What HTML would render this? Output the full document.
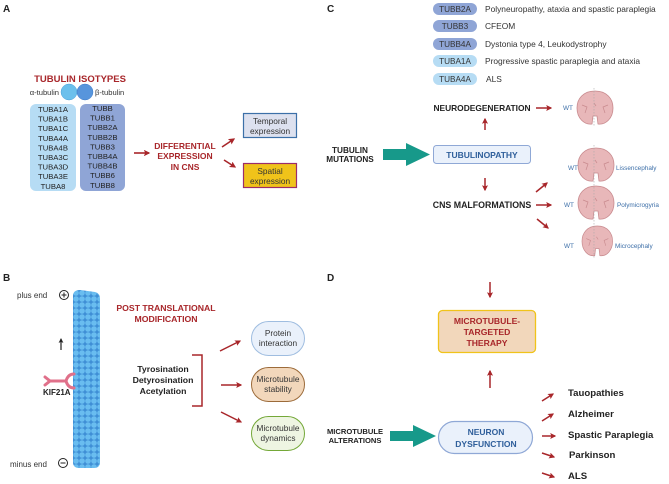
<!DOCTYPE html>
<html><head><meta charset="utf-8"><style>
html,body{margin:0;padding:0;background:#fff}
svg{display:block}
text{font-family:"Liberation Sans",sans-serif}
.b{font-weight:bold}
</style></head><body>
<svg width="669" height="484" viewBox="0 0 669 484" xmlns="http://www.w3.org/2000/svg">
<defs>
<marker id="ar" viewBox="0 0 10 10" refX="8" refY="5" markerWidth="4" markerHeight="4" orient="auto"><path d="M0,0 L10,5 L0,10 L2,5Z" fill="#a8262a"/></marker>
<marker id="ak" viewBox="0 0 10 10" refX="8" refY="5" markerWidth="4" markerHeight="4" orient="auto"><path d="M0,0 L10,5 L0,10 L2,5Z" fill="#222"/></marker>
<pattern id="mt" x="73" y="290" width="6" height="6" patternUnits="userSpaceOnUse"><rect width="6" height="6" fill="#3f8fd6"/><circle cx="3" cy="3" r="2.8" fill="#69bdf0"/></pattern>
<g id="brain"><path d="M18,0 C6,0 0,8 0,17 C0,27 7,34 15,33 L16,25 L20,25 L21,33 C29,34 36,27 36,17 C36,8 30,0 18,0Z" fill="#e8b7b9" stroke="#c88a8e" stroke-width="0.8"/><path d="M5,14 L10,16 L8,22 M31,14 L26,16 L28,22 M17,12 L19,15" stroke="#c88a8e" stroke-width="0.7" fill="none"/></g>
</defs>

<!-- Panel A -->
<text x="3" y="12" class="b" font-size="10" fill="#222">A</text>
<text x="80" y="82" class="b" font-size="9.5" fill="#a8262a" text-anchor="middle">TUBULIN ISOTYPES</text>
<text x="59" y="95" font-size="7.6" fill="#333" text-anchor="end">α-tubulin</text>
<circle cx="69" cy="92" r="8" fill="#6cc0ec" stroke="#4aa0d8" stroke-width="0.5"/>
<circle cx="85" cy="92" r="8" fill="#5795dc" stroke="#3e7bc8" stroke-width="0.5"/>
<text x="95" y="95" font-size="7.6" fill="#333">β-tubulin</text>
<rect x="30" y="104" width="46" height="87" rx="6" fill="#b6dcf4"/>
<rect x="80" y="104" width="45" height="87" rx="6" fill="#8fa5d6"/>
<g font-size="7.7" fill="#222" text-anchor="middle">
<text x="53" y="112">TUBA1A</text><text x="53" y="121.6">TUBA1B</text><text x="53" y="131.2">TUBA1C</text><text x="53" y="140.8">TUBA4A</text><text x="53" y="150.4">TUBA4B</text><text x="53" y="160">TUBA3C</text><text x="53" y="169.6">TUBA3D</text><text x="53" y="179.2">TUBA3E</text><text x="53" y="188.8">TUBA8</text>
<text x="102.5" y="111">TUBB</text><text x="102.5" y="120.6">TUBB1</text><text x="102.5" y="130.2">TUBB2A</text><text x="102.5" y="139.8">TUBB2B</text><text x="102.5" y="149.4">TUBB3</text><text x="102.5" y="159">TUBB4A</text><text x="102.5" y="168.6">TUBB4B</text><text x="102.5" y="178.2">TUBB6</text><text x="102.5" y="187.8">TUBB8</text>
</g>
<line x1="134" y1="153" x2="149" y2="153" stroke="#a8262a" stroke-width="1.6" marker-end="url(#ar)"/>
<g class="b" font-size="8.5" fill="#a8262a" text-anchor="middle"><text x="185" y="149">DIFFERENTIAL</text><text x="185" y="159">EXPRESSION</text><text x="185" y="170">IN CNS</text></g>
<line x1="222" y1="147" x2="234" y2="139" stroke="#a8262a" stroke-width="1.6" marker-end="url(#ar)"/>
<line x1="224" y1="160" x2="235" y2="167" stroke="#a8262a" stroke-width="1.6" marker-end="url(#ar)"/>
<rect x="243.5" y="113.5" width="53" height="24" fill="#dde1ef" stroke="#3c70a8" stroke-width="1.2"/>
<g font-size="8.3" fill="#333" text-anchor="middle"><text x="270" y="124">Temporal</text><text x="270" y="134">expression</text></g>
<rect x="243.5" y="163.5" width="53" height="24" fill="#f0c31a" stroke="#9b2d6a" stroke-width="1.2"/>
<g font-size="8.3" fill="#333" text-anchor="middle"><text x="270" y="174">Spatial</text><text x="270" y="184">expression</text></g>

<!-- Panel B -->
<text x="3" y="281" class="b" font-size="10" fill="#222">B</text>
<text x="17" y="298" font-size="8" fill="#333">plus end</text>
<circle cx="64" cy="295" r="4.5" fill="none" stroke="#222" stroke-width="1"/><path d="M61.5,295h5M64,292.5v5" stroke="#222" stroke-width="1"/>
<path d="M73,296 Q73,290 80,290 L95,292 Q100,293 100,299 L100,462 Q100,468 94,468 L79,468 Q73,468 73,462Z" fill="url(#mt)"/>
<line x1="61" y1="350" x2="61" y2="339" stroke="#222" stroke-width="1.2" marker-end="url(#ak)"/>
<path d="M45,377 L50,381 L45,385 M50,381 L66,381 M66,381 Q68,374 74,374 M66,381 Q68,388 74,388" stroke="#e0708a" stroke-width="3" fill="none" stroke-linecap="round"/>
<text x="43" y="395" class="b" font-size="8" fill="#222">KIF21A</text>
<text x="10" y="467" font-size="8" fill="#333">minus end</text>
<circle cx="63" cy="463" r="4.5" fill="none" stroke="#222" stroke-width="1"/><path d="M60.5,463h5" stroke="#222" stroke-width="1"/>
<g class="b" font-size="8.7" fill="#a8262a" text-anchor="middle"><text x="166" y="311">POST TRANSLATIONAL</text><text x="166" y="322">MODIFICATION</text></g>
<g class="b" font-size="8.7" fill="#222" text-anchor="middle"><text x="163" y="372">Tyrosination</text><text x="163" y="383">Detyrosination</text><text x="163" y="394">Acetylation</text></g>
<path d="M192,355 L202,355 L202,406 L192,406" stroke="#a8262a" stroke-width="1.5" fill="none"/>
<line x1="220" y1="351" x2="240" y2="341" stroke="#a8262a" stroke-width="1.5" marker-end="url(#ar)"/>
<line x1="221" y1="385" x2="241" y2="385" stroke="#a8262a" stroke-width="1.5" marker-end="url(#ar)"/>
<line x1="221" y1="412" x2="241" y2="422" stroke="#a8262a" stroke-width="1.5" marker-end="url(#ar)"/>
<rect x="251.5" y="321.5" width="53" height="34" rx="17" fill="#eaf1fb" stroke="#9fbde0" stroke-width="1"/>
<g font-size="8.3" fill="#333" text-anchor="middle"><text x="278" y="336">Protein</text><text x="278" y="346">interaction</text></g>
<rect x="251.5" y="367.5" width="53" height="34" rx="17" fill="#f2d7bb" stroke="#9c6b3a" stroke-width="1"/>
<g font-size="8.3" fill="#333" text-anchor="middle"><text x="278" y="382">Microtubule</text><text x="278" y="392">stability</text></g>
<rect x="251.5" y="416.5" width="53" height="34" rx="17" fill="#eef5e2" stroke="#74a838" stroke-width="1"/>
<g font-size="8.3" fill="#333" text-anchor="middle"><text x="278" y="431">Microtubule</text><text x="278" y="441">dynamics</text></g>

<!-- Panel C -->
<text x="327" y="12" class="b" font-size="10" fill="#222">C</text>
<g font-size="8.2" text-anchor="middle" fill="#333">
<rect x="433" y="3" width="44" height="12" rx="6" fill="#8fa5d6"/><text x="455" y="12">TUBB2A</text>
<rect x="433" y="20" width="44" height="12" rx="6" fill="#8fa5d6"/><text x="455" y="29">TUBB3</text>
<rect x="433" y="38" width="44" height="12" rx="6" fill="#8fa5d6"/><text x="455" y="47">TUBB4A</text>
<rect x="433" y="55" width="44" height="12" rx="6" fill="#b6dcf4"/><text x="455" y="64">TUBA1A</text>
<rect x="433" y="73" width="44" height="12" rx="6" fill="#b6dcf4"/><text x="455" y="82">TUBA4A</text>
</g>
<g font-size="8.4" fill="#333">
<text x="485" y="12">Polyneuropathy, ataxia and spastic paraplegia</text>
<text x="485" y="29">CFEOM</text>
<text x="485" y="47">Dystonia type 4, Leukodystrophy</text>
<text x="485" y="64">Progressive spastic paraplegia and ataxia</text>
<text x="486" y="82">ALS</text>
</g>
<text x="482" y="111" class="b" font-size="8.4" fill="#222" text-anchor="middle">NEURODEGENERATION</text>
<line x1="536" y1="108" x2="551" y2="108" stroke="#a8262a" stroke-width="1.5" marker-end="url(#ar)"/>
<line x1="485" y1="130" x2="485" y2="119" stroke="#a8262a" stroke-width="1.5" marker-end="url(#ar)"/>
<text x="350" y="153" class="b" font-size="8.2" fill="#222" text-anchor="middle">TUBULIN</text>
<text x="350" y="162" class="b" font-size="8.2" fill="#222" text-anchor="middle">MUTATIONS</text>
<path d="M383,149 L406,149 L406,143 L430,154.5 L406,166 L406,160 L383,160Z" fill="#17998a"/>
<rect x="433.5" y="145.5" width="97" height="18" rx="3" fill="#eaf1fb" stroke="#8fa8d6" stroke-width="1"/>
<text x="482" y="158" class="b" font-size="8.5" fill="#2f5f9b" text-anchor="middle">TUBULINOPATHY</text>
<line x1="485" y1="178" x2="485" y2="190" stroke="#a8262a" stroke-width="1.5" marker-end="url(#ar)"/>
<text x="482" y="208" class="b" font-size="8.8" fill="#222" text-anchor="middle">CNS MALFORMATIONS</text>
<line x1="536" y1="192" x2="547" y2="183" stroke="#a8262a" stroke-width="1.5" marker-end="url(#ar)"/>
<line x1="536" y1="205" x2="551" y2="205" stroke="#a8262a" stroke-width="1.5" marker-end="url(#ar)"/>
<line x1="537" y1="219" x2="548" y2="228" stroke="#a8262a" stroke-width="1.5" marker-end="url(#ar)"/>
<use href="#brain" transform="translate(577,91)"/>
<use href="#brain" transform="translate(578,148)"/>
<use href="#brain" transform="translate(578,186)"/>
<use href="#brain" transform="translate(582,226) scale(0.85,0.9)"/>
<g stroke="#aaa" stroke-width="0.6" stroke-dasharray="1.5,1.5"><line x1="594" y1="88" x2="594" y2="127"/><line x1="594" y1="145" x2="594" y2="258"/></g>
<g font-size="6.4" fill="#3d6fa8">
<text x="563" y="110">WT</text>
<text x="568" y="170">WT</text><text x="616" y="170">Lissencephaly</text>
<text x="564" y="207">WT</text><text x="617" y="207">Polymicrogyria</text>
<text x="564" y="248">WT</text><text x="615" y="248">Microcephaly</text>
</g>

<!-- Panel D -->
<text x="327" y="281" class="b" font-size="10" fill="#222">D</text>
<line x1="490" y1="282" x2="490" y2="297" stroke="#a8262a" stroke-width="1.5" marker-end="url(#ar)"/>
<rect x="438.5" y="310.5" width="97" height="42" rx="4" fill="#f2d7bb" stroke="#f0c31a" stroke-width="1.3"/>
<g class="b" font-size="8.6" fill="#a8262a" text-anchor="middle"><text x="487" y="324">MICROTUBULE-</text><text x="487" y="335">TARGETED</text><text x="487" y="346">THERAPY</text></g>
<line x1="490" y1="388" x2="490" y2="371" stroke="#a8262a" stroke-width="1.5" marker-end="url(#ar)"/>
<g class="b" font-size="7.6" fill="#222" text-anchor="middle"><text x="355" y="434">MICROTUBULE</text><text x="355" y="443">ALTERATIONS</text></g>
<path d="M390,431 L413,431 L413,425 L436,436 L413,447 L413,441 L390,441Z" fill="#17998a"/>
<rect x="438.5" y="421.5" width="94" height="32" rx="16" fill="#eaf1fb" stroke="#8fa8d6" stroke-width="1.2"/>
<g class="b" font-size="8.5" fill="#2f5f9b" text-anchor="middle"><text x="486" y="435">NEURON</text><text x="486" y="447">DYSFUNCTION</text></g>
<g stroke="#a8262a" stroke-width="1.5">
<line x1="542" y1="401" x2="553" y2="394" marker-end="url(#ar)"/>
<line x1="542" y1="421" x2="553" y2="414" marker-end="url(#ar)"/>
<line x1="542" y1="436" x2="555" y2="436" marker-end="url(#ar)"/>
<line x1="542" y1="453" x2="554" y2="457" marker-end="url(#ar)"/>
<line x1="542" y1="473" x2="554" y2="477" marker-end="url(#ar)"/>
</g>
<g class="b" font-size="9.6" fill="#222">
<text x="568" y="396">Tauopathies</text>
<text x="568" y="417">Alzheimer</text>
<text x="568" y="438">Spastic Paraplegia</text>
<text x="569" y="458">Parkinson</text>
<text x="568" y="479">ALS</text>
</g>
</svg>
</body></html>
